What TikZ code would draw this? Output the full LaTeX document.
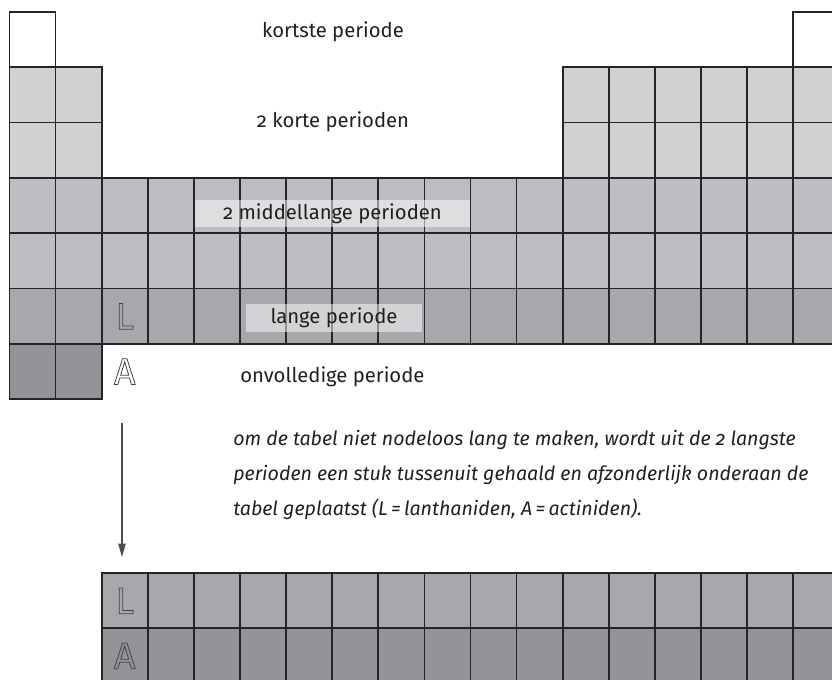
\documentclass[tikz,border=0pt]{standalone}
\usepackage{fontspec}
\setmainfont{Fira Sans}[Numbers=OldStyle]
\usetikzlibrary{positioning, arrows.meta}
\definecolor{pt-line}{HTML}{262426}
\definecolor{pt-text}{HTML}{231F20}
\definecolor{pt-kort}{HTML}{D0D1D3}
\definecolor{pt-midden}{HTML}{BDBEC1}
\definecolor{pt-lang}{HTML}{A7A8AB}
\definecolor{pt-onvol}{HTML}{939497}
\definecolor{pt-pijl}{HTML}{4D4D4F}
% hollow letters (text render mode 1 = stroke only)
\newcommand{\holleletter}[1]{\special{pdf:literal direct 1 Tr 0.6 w}#1\special{pdf:literal direct 0 Tr}}
\newcommand{\cx}[1]{9.5+(#1-0.5)*46.1}
\newcommand{\cy}[1]{12+(#1-0.5)*55.33}

\begin{document}
\begin{tikzpicture}[x=0.75pt, y=-0.75pt,
    cell/.style={draw=pt-line, line width=1.25pt, inner sep=0pt, minimum width=34.6pt, minimum height=41.5pt},
    label/.style={text=pt-text, inner sep=0pt, font=\fontsize{15.2}{17}\selectfont},
    labelbox/.style={label, fill=white, fill opacity=0.5, text opacity=1},
    hol/.style={text=pt-text!85, font=\fontsize{28}{28}\selectfont, inner sep=0pt}]
    \path[use as bounding box, clip] (0,0) rectangle (832,680);

    % periode 1
    \foreach \c in {1,18}
        \node[cell, fill=white] (t-1-\c) at ({\cx{\c}},{\cy{1}}) {};
    % periode 2 en 3
    \foreach \r in {2,3}
        \foreach \c in {1,2,13,14,...,18}
            \node[cell, fill=pt-kort] (t-\r-\c) at ({\cx{\c}},{\cy{\r}}) {};
    % periode 4 en 5
    \foreach \r in {4,5}
        \foreach \c in {1,...,18}
            \node[cell, fill=pt-midden] (t-\r-\c) at ({\cx{\c}},{\cy{\r}}) {};
    % periode 6
    \foreach \c in {1,...,18}
        \node[cell, fill=pt-lang] (t-6-\c) at ({\cx{\c}},{\cy{6}}) {};
    % periode 7
    \foreach \c in {1,2}
        \node[cell, fill=pt-onvol] (t-7-\c) at ({\cx{\c}},{\cy{7}}) {};

    % losse rijen onderaan
    \foreach \c in {3,...,18} {
        \node[cell, fill=pt-lang] (b-1-\c) at ({\cx{\c}},600.8) {};
        \node[cell, fill=pt-onvol] (b-2-\c) at ({\cx{\c}},655.8) {};
    }

    % labels
    \node[label, anchor=base] (kortste) at (333,37.5) {kortste periode};
    \node[label, anchor=base] (kort) at (333,127.5) {2 korte perioden};
    \node[labelbox, minimum width=206pt, minimum height=20.5pt] (midden) at (332.5,213.5) {2 middellange perioden};
    \node[labelbox, minimum width=132pt, minimum height=21pt] (lang) at (334,318) {lange periode};
    \node[label, anchor=base west] (onvol) at (240,383) {onvolledige periode};

    \node[hol] (lan) at (t-6-3) {\holleletter{L}};
    \node[hol] (act) at ({\cx{3}},{\cy{7}}) {\holleletter{A}};
    \node[hol] (lan2) at (b-1-3) {\holleletter{L}};
    \node[hol] (act2) at (b-2-3) {\holleletter{A}};

    \node[label, anchor=base west, align=left, font=\fontsize{14.7}{26.25}\selectfont\itshape] (uitleg) at (233,516)
        {om de tabel niet nodeloos lang te maken, wordt uit de 2 langste\\
         perioden een stuk tussenuit gehaald en afzonderlijk onderaan de\\
         tabel geplaatst (L\,=\,lanthaniden, A\,=\,actiniden).};

    \coordinate (pijl-van) at (122,423);
    \coordinate (pijl-naar) at (122,557);
    \draw[pt-pijl, line width=0.9pt, -{Triangle[length=10pt, width=5.5pt]}] (pijl-van) -- (pijl-naar);
\end{tikzpicture}
\end{document}
